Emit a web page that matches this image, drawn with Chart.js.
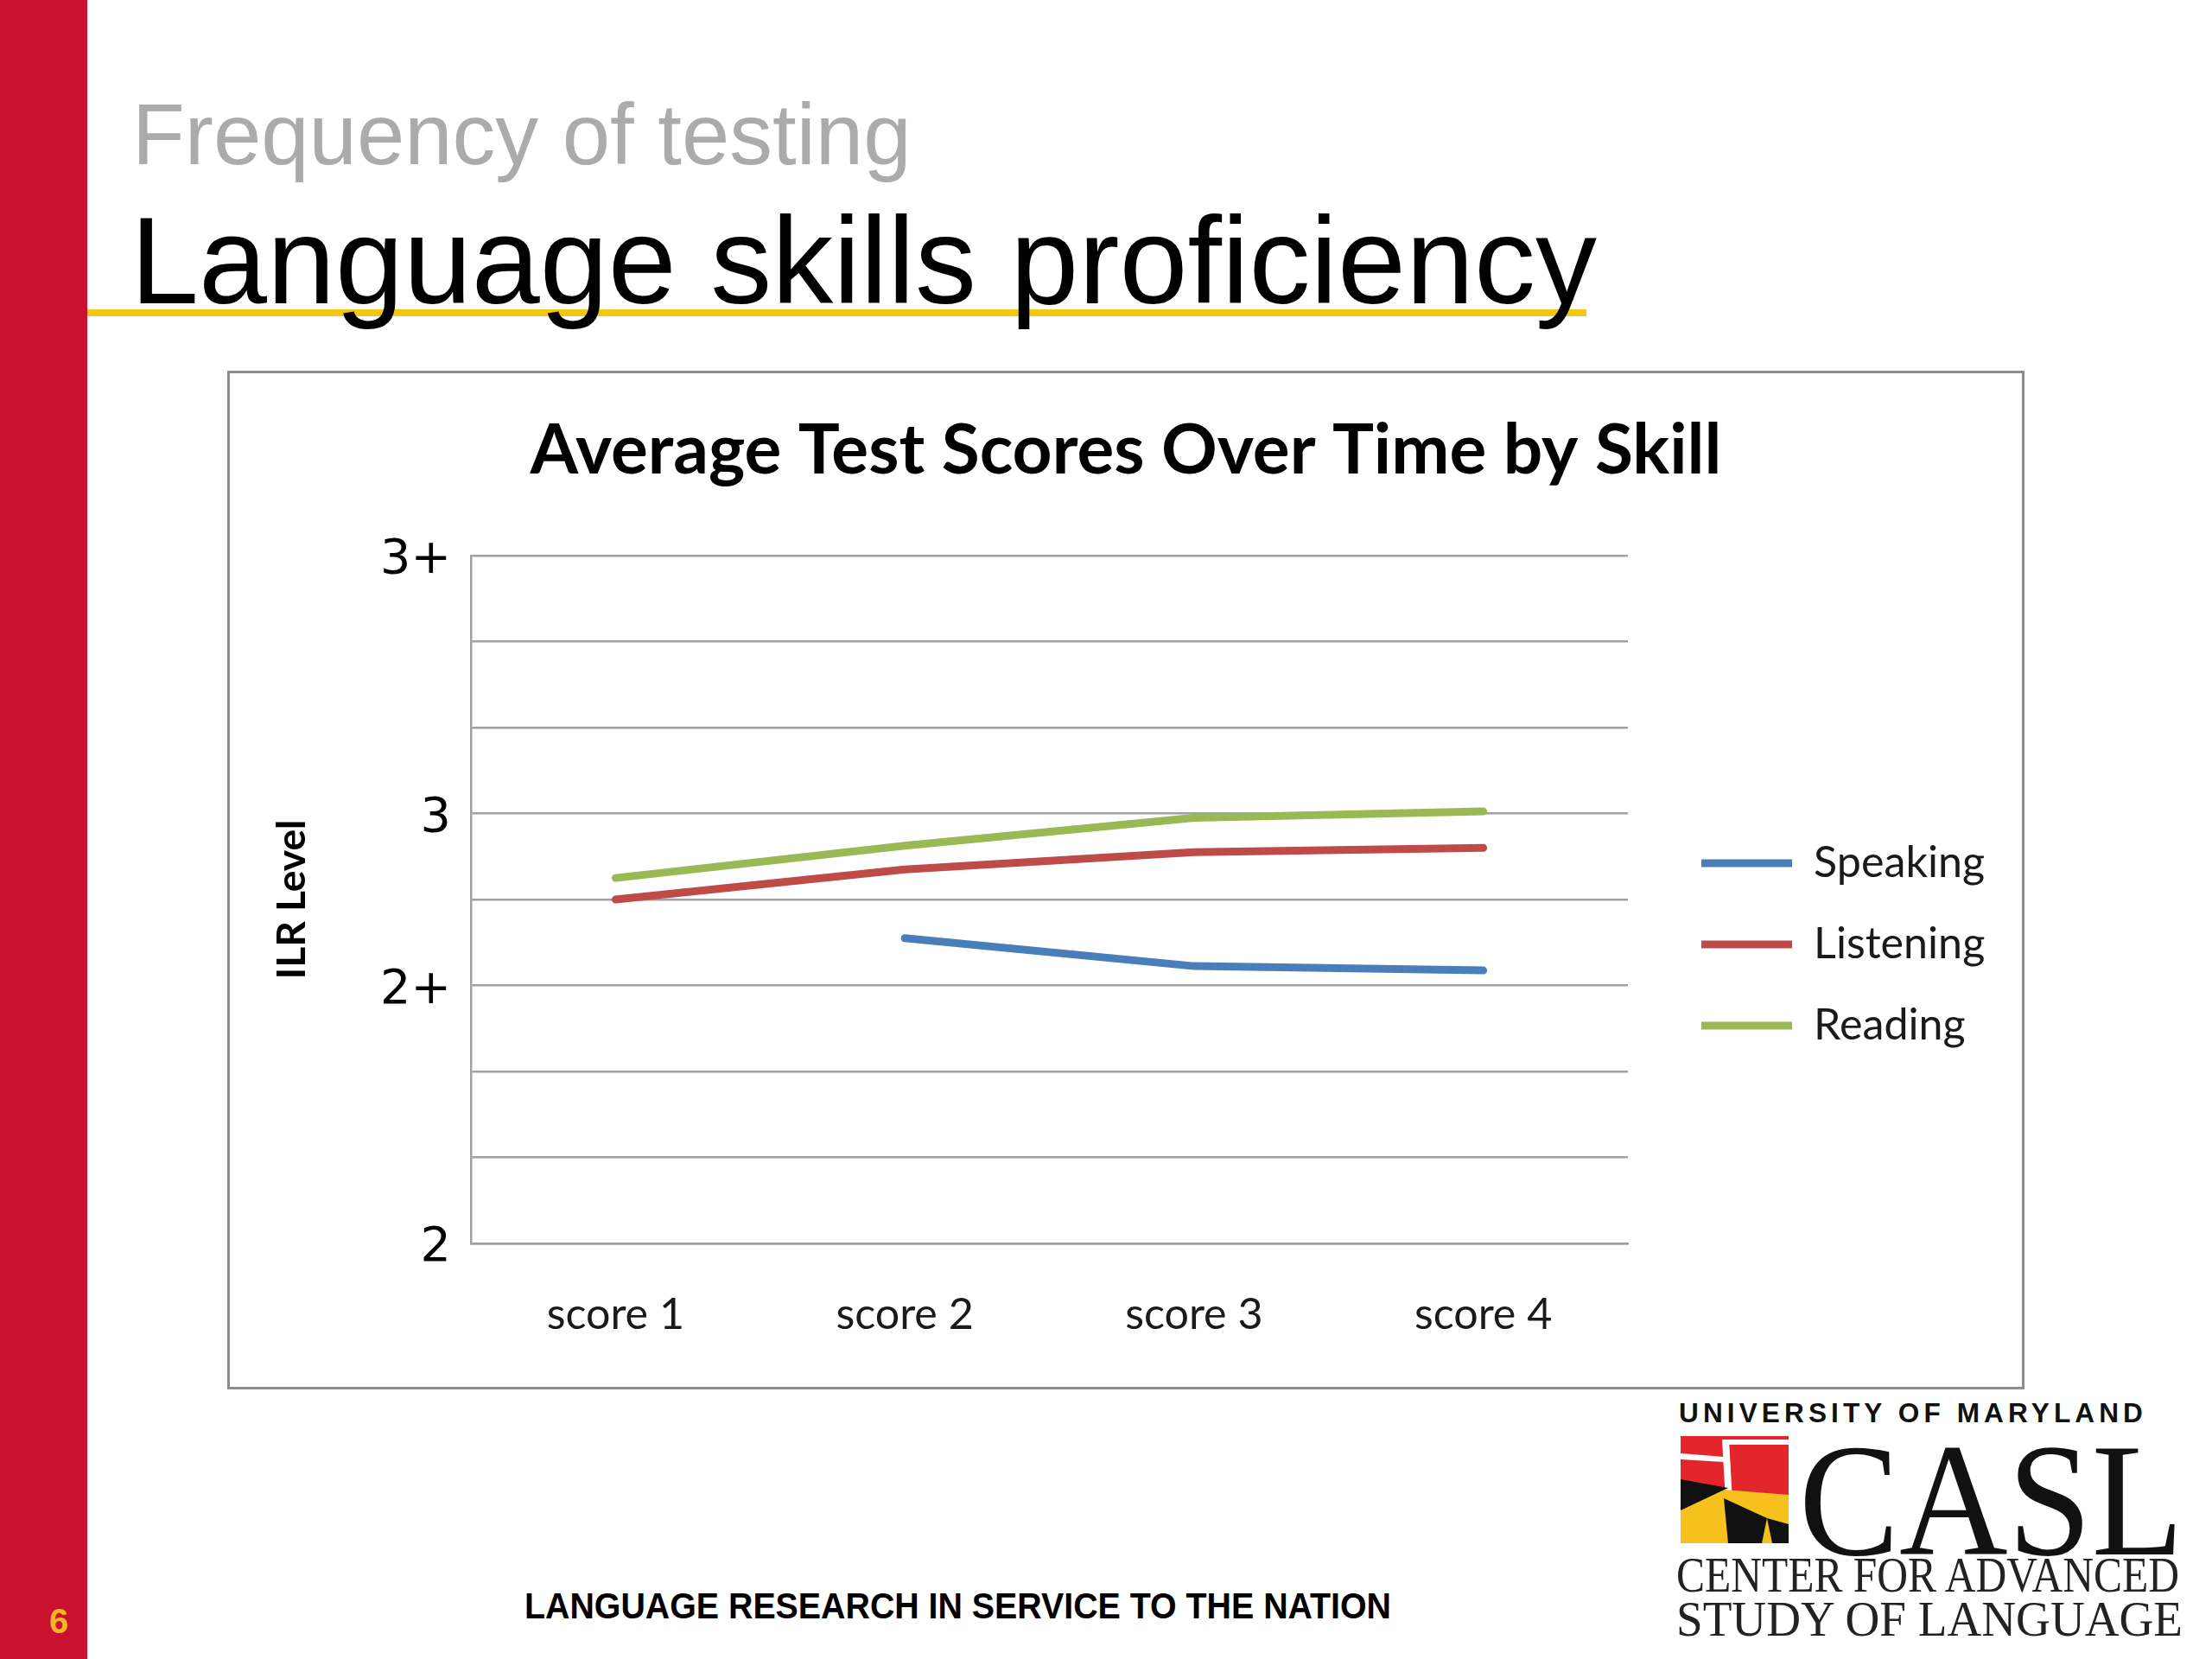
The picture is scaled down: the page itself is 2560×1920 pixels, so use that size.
<!DOCTYPE html>
<html>
<head>
<meta charset="utf-8">
<script src="https://cdn.jsdelivr.net/npm/chart.js@4.4.1/dist/chart.umd.min.js"></script>
<style>
  body { margin: 0; width: 2560px; height: 1920px; position: relative; background: #fff; overflow: hidden; }
  .abs { position: absolute; white-space: nowrap; line-height: 1; }
  #bar { left: 0; top: 0; width: 101px; height: 1920px; background: #cb1130; }
  #rule { left: 101px; top: 358px; width: 1735px; height: 8px; background: #f3c60f; }
  #box { left: 263px; top: 429px; width: 2080px; height: 1179px; border: 3px solid #8c8c8c; box-sizing: border-box; }
  #chart { position: absolute; left: 0; top: 0; }
</style>
</head>
<body>
<div id="bar" class="abs"></div>
<div id="rule" class="abs"></div>
<div id="box" class="abs"><canvas id="chart" width="2074" height="1173"></canvas></div>
<canvas id="flag" class="abs" width="125" height="124" style="left:1945px;top:1662px"></canvas>
<script>
// data
const categories = ["score 1", "score 2", "score 3", "score 4"];
const speaking = [null, 2.71, 2.645, 2.635];
const listening = [2.8, 2.87, 2.91, 2.92];
const reading = [2.85, 2.925, 2.99, 3.005];
const yTickValues = [2, 2.6, 3, 3.6];
const yTickLabels = ["2", "2+", "3", "3+"];

// text measuring, used to size fonts to the reference
const measure = document.createElement("canvas").getContext("2d");
const textWidth = (text, font) => {
  measure.font = font;
  return measure.measureText(text).width;
};
const fitSize = (text, weight, family, width) =>
  (100 * width) / textWidth(text, weight + " 100px " + family);

const sans = "Lato";
const titleSize = fitSize("Average Test Scores Over Time by Skill", "bold", sans, 1379);
const labelSize = fitSize("Speaking", "normal", sans, 198);
const axisTitleSize = fitSize("ILR Level", "bold", sans, 185);
const tickSize = fitSize("3+", "normal", '"DejaVu Sans"', 82);

// layout targets inside the canvas
const W = 2074, H = 1173;
const plot = { left: 279, right: 1618, top: 211, bottom: 1010 };
const titleMid = 90;
const xLabelMid = 1093;
const yTitleMid = 72;
const legendX = 1703;
const legendFirstMid = 567;
const legendStep = 94;
const legendLine = 105;
const tickPad = 23;

const xPad = xLabelMid - plot.bottom - 0.6 * labelSize;
const padBottom = Math.max(0, H - plot.bottom - 1.2 * labelSize - 2 * xPad);
const tickW = textWidth("3+", tickSize + 'px "DejaVu Sans"');
const legendPad = legendStep - labelSize;
const names = ["Speaking", "Listening", "Reading"];
const colWidth = legendLine + labelSize / 2 +
  Math.max(...names.map((n) => textWidth(n, labelSize + "px " + sans)));
const padSide = W - legendX - colWidth - 10;
const yTitleTop = yTitleMid - 0.6 * axisTitleSize - padSide;
const yTitleBottom = plot.left - padSide - 2 * tickPad - tickW - 1.2 * axisTitleSize - yTitleTop;
const gapAxis = legendX - legendPad - plot.right;
const legendBottom = H - padBottom;
const legendStart = legendFirstMid - labelSize / 2;
const legendTitle = 2 * legendStart - legendPad - legendBottom + 3 * legendStep;
const gridColor = "#a0a0a0";

Chart.defaults.font.family = sans;

new Chart(document.getElementById("chart"), {
  type: "line",
  data: {
    labels: categories,
    datasets: [
      { label: "Speaking", data: speaking, borderColor: "#4a7ebb" },
      { label: "Listening", data: listening, borderColor: "#be4b48" },
      { label: "Reading", data: reading, borderColor: "#98b954" },
    ].map((d) => ({
      ...d,
      backgroundColor: d.borderColor,
      borderWidth: 9,
      pointRadius: 0,
      tension: 0,
      borderCapStyle: "round",
      borderJoinStyle: "round",
      fill: false,
    })),
  },
  options: {
    responsive: false,
    animation: false,
    devicePixelRatio: 1,
    layout: { padding: { left: padSide, right: padSide, top: 0, bottom: padBottom } },
    plugins: {
      title: {
        display: true,
        text: "Average Test Scores Over Time by Skill",
        color: "#000",
        font: { weight: "bold", size: titleSize },
        padding: {
          top: titleMid - 0.6 * titleSize,
          bottom: plot.top - titleMid - 0.6 * titleSize,
        },
      },
      legend: {
        position: "right",
        maxWidth: 700,
        title: { display: true, text: " ", font: { size: 10 }, padding: { top: legendTitle - 12, bottom: 0 } },
        labels: {
          usePointStyle: true,
          pointStyle: "line",
          pointStyleWidth: legendLine,
          padding: legendPad,
          color: "#1a1a1a",
          font: { size: labelSize },
        },
      },
      tooltip: { enabled: false },
    },
    scales: {
      x: {
        offset: true,
        grid: { display: false, drawTicks: false },
        border: { color: gridColor, width: 2.5 },
        ticks: { padding: xPad, color: "#1a1a1a", font: { size: labelSize } },
      },
      y: {
        min: 2,
        max: 3.6,
        grid: { color: gridColor, lineWidth: 2.5, drawTicks: false },
        border: { color: gridColor, width: 2.5 },
        ticks: {
          stepSize: 0.2,
          padding: tickPad,
          labelOffset: 6,
          color: "#000",
          font: { family: "DejaVu Sans", size: tickSize },
          callback: (v) => {
            const i = yTickValues.findIndex((t) => Math.abs(t - v) < 1e-6);
            return i < 0 ? "" : yTickLabels[i];
          },
        },
        title: {
          display: true,
          text: "ILR Level",
          color: "#000",
          font: { weight: "bold", size: axisTitleSize },
          padding: { top: yTitleTop, bottom: yTitleBottom },
        },
      },
      gap: {
        position: "right",
        grid: { display: false },
        border: { display: false },
        ticks: { display: false },
        afterFit: (s) => { s.width = gapAxis; },
      },
    },
  },
});

// slide text
function placeText(text, o) {
  const el = document.createElement("div");
  el.className = "abs";
  el.textContent = text;
  el.style.left = o.left + "px";
  el.style.top = o.baseline - 0.845 * o.size + "px";
  el.style.font = (o.weight || "normal") + " " + o.size + "px " + o.family;
  el.style.color = o.color || "#000";
  el.style.letterSpacing = (o.spacing || 0) + "px";
  document.body.appendChild(el);
  if (o.width) {
    const w = el.getBoundingClientRect().width;
    el.style.transformOrigin = "left center";
    el.style.transform = "scaleX(" + o.width / w + ")";
  }
}

const arial = '"Liberation Sans", Arial, sans-serif';
const serif = '"Liberation Serif", "Times New Roman", serif';
placeText("Frequency of testing", { left: 153, baseline: 183, size: 99.5, family: arial, color: "#ababab" });
placeText("Language skills proficiency", { left: 151, baseline: 340, size: 142, family: arial });
placeText("LANGUAGE RESEARCH IN SERVICE TO THE NATION", { left: 607, baseline: 1870, size: 42, weight: "bold", family: arial, width: 1003 });
placeText("6", { left: 57, baseline: 1888, size: 40, weight: "bold", family: arial, color: "#f7b52a" });
placeText("UNIVERSITY OF MARYLAND", { left: 1943, baseline: 1644, size: 31, weight: "bold", family: arial, spacing: 5, width: 542, color: "#111" });
placeText("CASL", { left: 2082, baseline: 1786, size: 187, family: serif, width: 445, color: "#111" });
placeText("CENTER FOR ADVANCED", { left: 1940, baseline: 1838, size: 56, family: serif, width: 582, color: "#222" });
placeText("STUDY OF LANGUAGE", { left: 1940, baseline: 1889, size: 56, family: serif, width: 586, color: "#222" });

// logo flag
const f = document.getElementById("flag").getContext("2d");
const poly = (color, pts) => {
  f.fillStyle = color;
  f.beginPath();
  pts.forEach(([x, y], i) => (i ? f.lineTo(x, y) : f.moveTo(x, y)));
  f.closePath();
  f.fill();
};
poly("#e2262b", [[0, 0], [125, 0], [125, 70], [0, 62]]);
poly("#ffffff", [[0, 20], [50, 24], [50, 30], [0, 27]]);
poly("#ffffff", [[48, 4], [56, 4], [60, 75], [52, 75]]);
poly("#ffffff", [[56, 4], [125, 4], [125, 10], [56, 10]]);
poly("#f6c11c", [[0, 58], [125, 68], [125, 124], [0, 124]]);
poly("#111111", [[0, 50], [55, 60], [0, 86]]);
poly("#111111", [[50, 72], [100, 95], [94, 124], [55, 124]]);
poly("#111111", [[100, 95], [125, 102], [125, 124], [106, 124]]);
</script>
</body>
</html>
